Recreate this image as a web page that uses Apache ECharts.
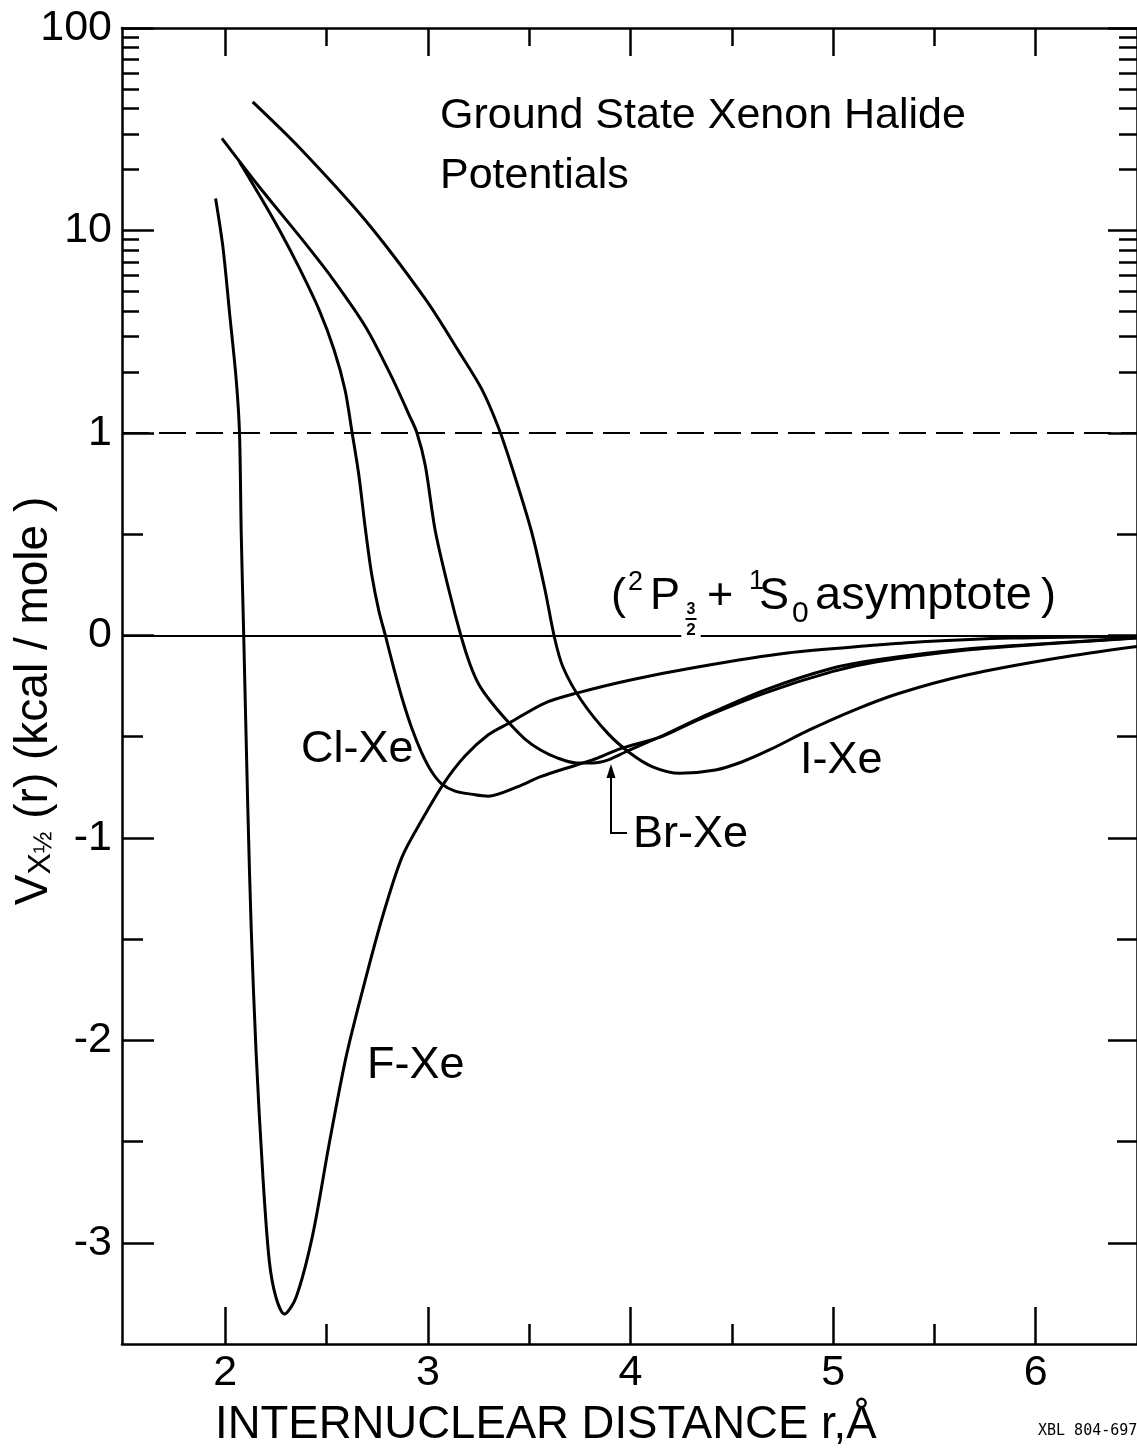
<!DOCTYPE html>
<html>
<head>
<meta charset="utf-8">
<script src="https://cdn.jsdelivr.net/npm/echarts@6/dist/echarts.min.js"></script>
<style>
html,body{margin:0;padding:0;background:#fff;}
#c{width:1137px;height:1449px;}
</style>
</head>
<body>
<div id="c"></div>
<script>
// ---- data (r in Angstrom, V in kcal/mole) ----
const rF  = [1.952,1.988,2.021,2.054,2.070,2.0785,2.091,2.111,2.128,2.152,2.185,2.217,2.250,2.291,2.349,2.430,2.512,2.594,2.676,2.774,2.872,2.970,3.077,3.183,3.298,3.401,3.577,3.734,4.000,4.331,4.774,5.217,5.438,5.880,6.500];
const vF  = [14.4,8.3,3.91,1.82,1.0,0.506,-0.01,-0.853,-1.455,-2.063,-2.665,-3.09,-3.27,-3.352,-3.27,-2.967,-2.515,-2.092,-1.759,-1.396,-1.095,-0.912,-0.733,-0.596,-0.491,-0.433,-0.334,-0.285,-0.220,-0.156,-0.087,-0.048,-0.031,-0.013,-0.005];
const rCl = [2.070,2.168,2.267,2.365,2.463,2.537,2.591,2.626,2.659,2.692,2.723,2.757,2.792,2.831,2.872,2.920,2.970,3.018,3.068,3.134,3.232,3.297,3.445,3.556,3.733,3.837,3.955,4.154,4.331,4.662,4.995,5.216,5.659,6.101,6.500];
const vCl = [21.8,14.96,10.05,6.53,4.05,2.57,1.63,1.0,0.792,0.520,0.298,0.125,-0.008,-0.161,-0.309,-0.457,-0.581,-0.672,-0.733,-0.769,-0.787,-0.794,-0.747,-0.698,-0.640,-0.606,-0.558,-0.500,-0.418,-0.285,-0.179,-0.130,-0.072,-0.039,-0.013];
const rBr = [1.983,2.168,2.365,2.527,2.694,2.821,2.905,2.946,2.987,3.036,3.101,3.166,3.209,3.253,3.312,3.401,3.479,3.556,3.641,3.733,3.813,3.887,3.975,4.154,4.331,4.662,4.995,5.217,5.659,6.101,6.500];
const vBr = [28.5,16.4,9.40,5.82,3.32,1.89,1.24,1.0,0.839,0.518,0.234,-0.013,-0.146,-0.245,-0.329,-0.433,-0.512,-0.566,-0.606,-0.630,-0.630,-0.616,-0.576,-0.497,-0.413,-0.27,-0.162,-0.120,-0.067,-0.037,-0.012];
const rI  = [2.135,2.365,2.692,2.987,3.150,3.265,3.347,3.412,3.510,3.576,3.625,3.666,3.756,3.888,3.999,4.109,4.243,4.419,4.552,4.685,4.883,5.104,5.327,5.659,6.101,6.500];
const vI  = [43.2,25.7,11.2,4.59,2.55,1.65,1.07,0.839,0.518,0.234,-0.012,-0.155,-0.319,-0.484,-0.582,-0.649,-0.681,-0.665,-0.624,-0.566,-0.467,-0.369,-0.286,-0.196,-0.113,-0.055];

const asymptoteLevel = 0;
const dashedLevel = 1;

// ticks
const xMajor = [2,3,4,5,6];
const xMinor = [2.5,3.5,4.5,5.5];
const yMajorLabels = [-3,-2,-1,0,1,10,100];
const yLinearMinor = [-2.5,-1.5,-0.5,0.5];
const yLogMinor = [2,3,4,5,6,7,8,9,20,30,40,50,60,70,80,90];

// hybrid axis: linear for V<=1, log10 above 1
const toAxis = v => v <= 1 ? v : 1 + Math.log10(v);
const fromAxis = t => t <= 1 ? t : Math.round(Math.pow(10, t - 1));

const FONT = 'Liberation Sans';
const BLACK = '#000';
const X_MIN = 1.49, X_MAX = 6.5, Y_MIN = -3.5, Y_MAX = 3;

function xAx(pos, ticks, len, showLine, labels) {
  return {
    type:'value', position:pos, min:X_MIN, max:X_MAX, gridIndex:0,
    axisLine:{show:showLine, onZero:false, lineStyle:{color:BLACK, width:2.5}},
    axisTick:{show:true, inside:true, length:len, customValues:ticks, lineStyle:{color:BLACK, width:2.5}},
    axisLabel: labels ? {show:true, customValues:ticks, fontSize:43, color:BLACK, fontFamily:FONT, margin:8} : {show:false},
    splitLine:{show:false}
  };
}
function yAx(pos, ticks, len, showLine, labels) {
  return {
    type:'value', position:pos, min:Y_MIN, max:Y_MAX, gridIndex:0,
    axisLine:{show:showLine, onZero:false, lineStyle:{color:BLACK, width:2.5}},
    axisTick:{show:true, inside:true, length:len, customValues:ticks, lineStyle:{color:BLACK, width:2.5}},
    axisLabel: labels ? {show:true, customValues:ticks, fontSize:43, color:BLACK, fontFamily:FONT, margin:10,
      formatter: val => String(fromAxis(val))} : {show:false},
    splitLine:{show:false}
  };
}

const yMajorT = yMajorLabels.map(toAxis);
const yLogMinorT = yLogMinor.map(toAxis);

const curves = [[rF,vF],[rCl,vCl],[rBr,vBr],[rI,vI]];
const names = ['F-Xe','Cl-Xe','Br-Xe','I-Xe'];

const series = curves.map(([r,v],i) => ({
  type:'line', name:names[i], xAxisIndex:0, yAxisIndex:0,
  data: r.map((x,j) => [x, toAxis(v[j])]),
  showSymbol:false, smooth:0.3, z:3,
  lineStyle:{color:BLACK, width:3},
  animation:false
}));
series[0].markLine = {
  silent:true, symbol:'none', animation:false, label:{show:false},
  data:[
    {yAxis: toAxis(asymptoteLevel), lineStyle:{color:BLACK, width:2, type:'solid'}},
    {yAxis: toAxis(dashedLevel), lineStyle:{color:BLACK, width:2.2, type:[27,10]}}
  ]
};

function txt(x, y, text, size, extra) {
  return {
    type:'text', x:x, y:y, z:100,
    style:Object.assign({text:text, fill:BLACK, font: size + 'px "' + FONT + '"', align:'left', verticalAlign:'middle'}, (extra||{}))
  };
}
const mid = (baseline, size) => baseline - 0.3465*size;

const graphic = [
  txt(440, mid(131,43), 'Ground State Xenon Halide', 43),
  txt(440, mid(191,43), 'Potentials', 43),
  // asymptote label
  txt(611, mid(612.5,45), '(', 45),
  txt(628, mid(592,27), '2', 27),
  txt(650, mid(612.5,45), 'P', 45),
  txt(691, mid(615.5,16), '3', 16, {align:'center', font:'bold 16px "'+FONT+'"'}),
  {type:'line', z:100, shape:{x1:685.5, y1:619, x2:696.5, y2:619}, style:{stroke:BLACK, lineWidth:2}},
  txt(691, mid(636.5,17), '2', 17, {align:'center', font:'bold 17px "'+FONT+'"', backgroundColor:'#fff', padding:[0,5,0,5]}),
  txt(707, mid(612.5,45), '+', 45),
  txt(749, mid(591,27), '1', 27),
  txt(759, mid(612.5,45), 'S', 45),
  txt(792, mid(624.5,30), '0', 30),
  txt(815, mid(612.5,47), 'asymptote', 47),
  txt(1041, mid(612.5,45), ')', 45),
  // curve labels
  txt(301, 749.5, 'Cl-Xe', 45),
  txt(633, 834.5, 'Br-Xe', 45),
  txt(800, 760.5, 'I-Xe', 45),
  txt(367, 1065.5, 'F-Xe', 45),
  // arrow for Br-Xe
  {type:'polyline', z:100, shape:{points:[[627,833],[611,833],[611,776]]}, style:{stroke:BLACK, lineWidth:2, fill:null}},
  {type:'polygon', z:100, shape:{points:[[611,764],[606.5,778],[615.5,778]]}, style:{fill:BLACK}},
  // x axis name
  txt(215, 1425.5, 'INTERNUCLEAR DISTANCE r,\u00C5', 45.5),
  // id
  txt(1038, 1431.5, 'XBL 804-697', 15, {font:'15px "DejaVu Sans Mono"'}),
  // y axis name (rotated)
  {type:'text', x:34, y:701, z:100, rotation:Math.PI/2,
    style:{text:'{v|V}{s|X}{f|\u00BD}{n| (r) (kcal / mole )}', align:'center', verticalAlign:'middle', fill:BLACK,
      rich:{
        v:{fontSize:46, fontFamily:FONT, fill:BLACK, lineHeight:46},
        s:{fontSize:32, fontFamily:FONT, fill:BLACK, lineHeight:24, verticalAlign:'bottom'},
        f:{fontSize:26, fontFamily:FONT, fill:BLACK, lineHeight:24, verticalAlign:'bottom'},
        n:{fontSize:46, fontFamily:FONT, fill:BLACK, lineHeight:46}
      }}}
];

const option = {
  animation:false,
  backgroundColor:'#fff',
  textStyle:{fontFamily:FONT},
  grid:{left:122, top:28, width:1020, height:1316, containLabel:false},
  xAxis:[
    xAx('bottom', xMajor, 37, true, true),
    xAx('bottom', xMinor, 20, false, false),
    xAx('top', xMajor, 28, true, false),
    xAx('top', xMinor, 18, false, false)
  ],
  yAxis:[
    yAx('left', yMajorT, 32, true, true),
    yAx('left', yLinearMinor, 21, false, false),
    yAx('left', yLogMinorT, 17, false, false),
    yAx('right', yMajorT, 29, true, false),
    yAx('right', yLinearMinor, 20, false, false),
    yAx('right', yLogMinorT, 18, false, false)
  ],
  series: series,
  graphic: graphic
};

const chart = echarts.init(document.getElementById('c'), null, {renderer:'canvas'});
chart.setOption(option);
</script>
</body>
</html>
